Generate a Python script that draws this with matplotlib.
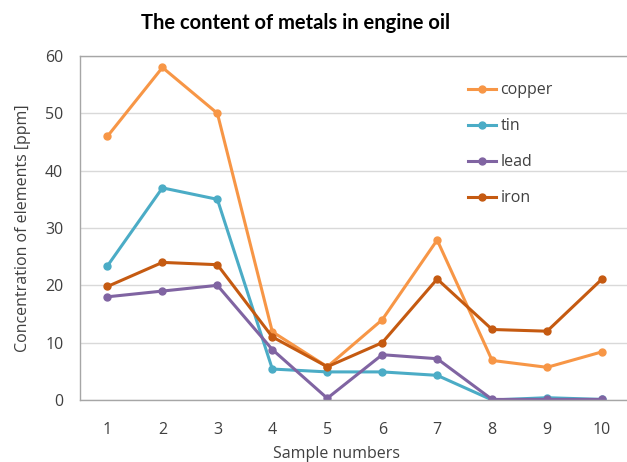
import numpy as np
import matplotlib
matplotlib.use("Agg")
import matplotlib.pyplot as plt

samples = [1, 2, 3, 4, 5, 6, 7, 8, 9, 10]
copper = [46, 58, 50, 11.9, 5.8, 14, 27.9, 6.9, 5.7, 8.4]
tin = [23.4, 37, 35, 5.4, 4.9, 4.9, 4.3, 0, 0.4, 0.1]
lead = [18, 19, 20, 8.8, 0.3, 7.9, 7.2, 0.1, 0.1, 0.1]
iron = [19.8, 24, 23.6, 11, 5.8, 10, 21.1, 12.3, 12, 21.1]

series = [("copper", copper, "#F79646"),
          ("tin", tin, "#4BACC6"),
          ("lead", lead, "#8064A2"),
          ("iron", iron, "#C55A11")]

plt.rcParams['font.family'] = ['Open Sans', 'DejaVu Sans']

fig = plt.figure(figsize=(6.27, 4.62), dpi=100)
ax = fig.add_axes([80 / 627, 1 - 400 / 462, 549.5 / 627, 344 / 462])

for name, vals, col in series:
    ax.plot(samples, vals, color=col, linewidth=2.2, marker='o', markersize=5, label=name)

ax.set_xlim(0.5, 10.5)
ax.set_ylim(0, 60)
ax.set_xticks(samples)
ax.set_yticks(np.arange(0, 61, 10))
ax.tick_params(length=0, labelsize=11.5, colors='#404040')
ax.tick_params(axis='x', pad=16)
ax.tick_params(axis='y', pad=12)
ax.grid(axis='y', color='#D9D9D9', linewidth=1)
ax.set_axisbelow(True)
for s in ax.spines.values():
    s.set_color('#A6A6A6')
    s.set_linewidth(1)

ax.set_ylabel('Concentration of elements [ppm]', fontsize=11.5, color='#404040', labelpad=10)
ax.set_xlabel('Sample numbers', fontsize=11.5, color='#404040')
# keep the label just inside the bottom edge
ax.xaxis.set_label_coords((336 - 80) / 549.5, -0.135)

fig.text(296 / 627, 1 - 23 / 462, 'The content of metals in engine oil',
         ha='center', va='center', fontsize=14.5, fontweight='bold',
         family=['Lato', 'DejaVu Sans'])

ax.legend(loc='upper left', bbox_to_anchor=((462 - 80) / 549.5, 1 - 20 / 344),
          frameon=False, fontsize=11.5, labelspacing=1.25, handlelength=1.7,
          handletextpad=0.3, borderaxespad=0, labelcolor='#404040')

fig.savefig('out.png', dpi=100)
